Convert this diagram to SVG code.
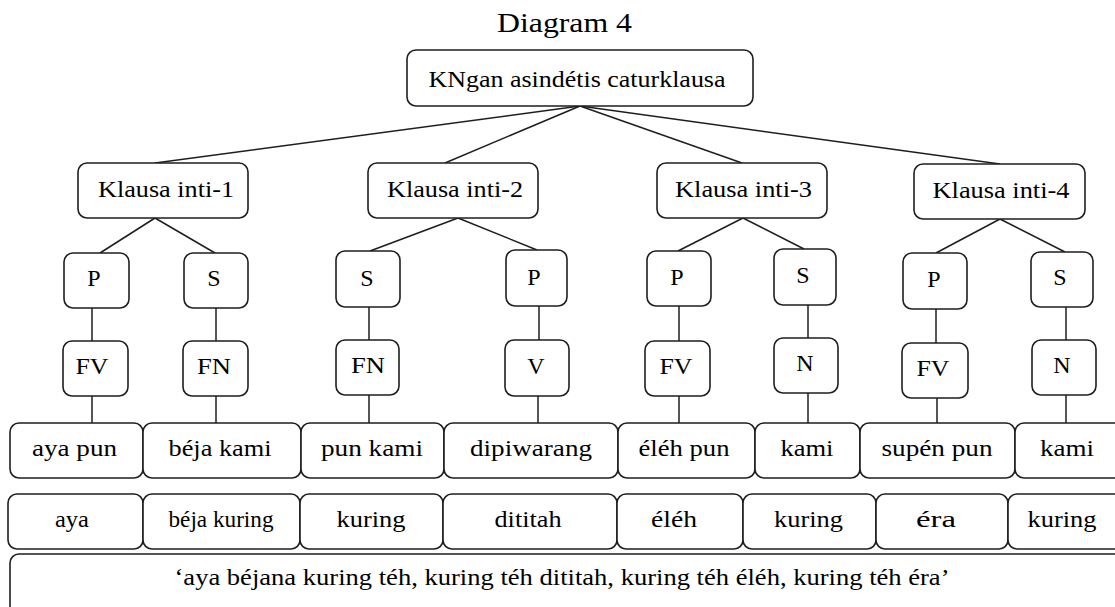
<svg xmlns="http://www.w3.org/2000/svg" width="1115" height="607" viewBox="0 0 1115 607">
  <style>
    .box { fill: #ffffff; stroke: #1e1e1e; stroke-width: 1.6; }
    .ln { stroke: #1e1e1e; stroke-width: 1.5; fill: none; }
    text { font-family: "Liberation Serif", "Times New Roman", serif; font-size: 24px; fill: #000000; text-anchor: middle; }
    text.title { font-size: 27px; }
  </style>
  <rect width="1115" height="607" fill="#ffffff"/>

  <text class="title" x="564.5" y="32" textLength="135" lengthAdjust="spacingAndGlyphs">Diagram 4</text>

  <!-- tree edges -->
  <g id="connectors">
    <line class="ln" x1="580" y1="106" x2="155" y2="163"/>
    <line class="ln" x1="580" y1="106" x2="445" y2="163"/>
    <line class="ln" x1="580" y1="106" x2="742" y2="163"/>
    <line class="ln" x1="580" y1="106" x2="1000" y2="164"/>

    <line class="ln" x1="155" y1="218" x2="100" y2="253"/>
    <line class="ln" x1="155" y1="218" x2="215" y2="253"/>
    <line class="ln" x1="458" y1="218" x2="370" y2="251"/>
    <line class="ln" x1="458" y1="218" x2="537" y2="250"/>
    <line class="ln" x1="743" y1="218" x2="678" y2="251"/>
    <line class="ln" x1="743" y1="218" x2="804" y2="249"/>
    <line class="ln" x1="1000" y1="219" x2="936" y2="253"/>
    <line class="ln" x1="1000" y1="219" x2="1065" y2="252"/>

    <line class="ln" x1="92" y1="308" x2="92" y2="341"/>
    <line class="ln" x1="216" y1="308" x2="216" y2="341"/>
    <line class="ln" x1="369" y1="307" x2="369" y2="340"/>
    <line class="ln" x1="539" y1="306" x2="539" y2="340"/>
    <line class="ln" x1="679" y1="306" x2="679" y2="341"/>
    <line class="ln" x1="808" y1="305" x2="808" y2="338"/>
    <line class="ln" x1="936" y1="309" x2="936" y2="343"/>
    <line class="ln" x1="1066" y1="307" x2="1066" y2="340"/>

    <line class="ln" x1="92" y1="396" x2="92" y2="423"/>
    <line class="ln" x1="216" y1="396" x2="216" y2="423"/>
    <line class="ln" x1="369" y1="395" x2="369" y2="423"/>
    <line class="ln" x1="538" y1="396" x2="538" y2="423"/>
    <line class="ln" x1="679" y1="396" x2="679" y2="423"/>
    <line class="ln" x1="808" y1="393" x2="808" y2="423"/>
    <line class="ln" x1="937" y1="398" x2="937" y2="423"/>
    <line class="ln" x1="1066" y1="395" x2="1066" y2="423"/>
  </g>

  <!-- root -->
  <g id="root">
    <rect class="box" x="407" y="50" width="346" height="56" rx="9"/>
    <text x="577" y="87" textLength="297" lengthAdjust="spacingAndGlyphs">KNgan asindétis caturklausa</text>
  </g>

  <!-- main clauses -->
  <g id="klausa-1">
    <rect class="box" x="78" y="163" width="170" height="55" rx="9"/>
    <text x="166" y="197" textLength="136" lengthAdjust="spacingAndGlyphs">Klausa inti-1</text>
  </g>
  <g id="klausa-2">
    <rect class="box" x="368" y="163" width="170" height="55" rx="9"/>
    <text x="455" y="197" textLength="136" lengthAdjust="spacingAndGlyphs">Klausa inti-2</text>
  </g>
  <g id="klausa-3">
    <rect class="box" x="657" y="163" width="170" height="55" rx="9"/>
    <text x="743.5" y="197" textLength="137" lengthAdjust="spacingAndGlyphs">Klausa inti-3</text>
  </g>
  <g id="klausa-4">
    <rect class="box" x="914" y="164" width="171" height="55" rx="9"/>
    <text x="1001" y="198" textLength="137" lengthAdjust="spacingAndGlyphs">Klausa inti-4</text>
  </g>

  <!-- functions -->
  <g id="k1-p">
    <rect class="box" x="64" y="253" width="65" height="55" rx="9"/>
    <text x="94" y="286">P</text>
  </g>
  <g id="k1-s">
    <rect class="box" x="184" y="253" width="64" height="55" rx="9"/>
    <text x="214" y="286">S</text>
  </g>
  <g id="k2-s">
    <rect class="box" x="336" y="251" width="64" height="56" rx="9"/>
    <text x="367" y="286">S</text>
  </g>
  <g id="k2-p">
    <rect class="box" x="506" y="250" width="61" height="56" rx="9"/>
    <text x="534" y="285">P</text>
  </g>
  <g id="k3-p">
    <rect class="box" x="647" y="251" width="64" height="55" rx="9"/>
    <text x="677" y="285">P</text>
  </g>
  <g id="k3-s">
    <rect class="box" x="774" y="249" width="62" height="56" rx="9"/>
    <text x="803" y="283">S</text>
  </g>
  <g id="k4-p">
    <rect class="box" x="903" y="253" width="64" height="56" rx="9"/>
    <text x="934" y="287">P</text>
  </g>
  <g id="k4-s">
    <rect class="box" x="1031" y="252" width="62" height="55" rx="9"/>
    <text x="1060" y="285">S</text>
  </g>

  <!-- categories -->
  <g id="k1-fv">
    <rect class="box" x="63" y="341" width="65" height="55" rx="9"/>
    <text x="92" y="374" textLength="33" lengthAdjust="spacingAndGlyphs">FV</text>
  </g>
  <g id="k1-fn">
    <rect class="box" x="183" y="341" width="65" height="55" rx="9"/>
    <text x="214" y="374" textLength="34" lengthAdjust="spacingAndGlyphs">FN</text>
  </g>
  <g id="k2-fn">
    <rect class="box" x="336" y="340" width="63" height="55" rx="9"/>
    <text x="368" y="373" textLength="34" lengthAdjust="spacingAndGlyphs">FN</text>
  </g>
  <g id="k2-v">
    <rect class="box" x="505" y="340" width="64" height="56" rx="9"/>
    <text x="536" y="374">V</text>
  </g>
  <g id="k3-fv">
    <rect class="box" x="645" y="341" width="65" height="55" rx="9"/>
    <text x="676" y="374" textLength="33" lengthAdjust="spacingAndGlyphs">FV</text>
  </g>
  <g id="k3-n">
    <rect class="box" x="774" y="338" width="64" height="55" rx="9"/>
    <text x="805" y="371">N</text>
  </g>
  <g id="k4-fv">
    <rect class="box" x="902" y="343" width="66" height="55" rx="9"/>
    <text x="933" y="376" textLength="33" lengthAdjust="spacingAndGlyphs">FV</text>
  </g>
  <g id="k4-n">
    <rect class="box" x="1032" y="340" width="64" height="55" rx="9"/>
    <text x="1062" y="373">N</text>
  </g>

  <!-- Sundanese words -->
  <g id="words">
    <rect class="box" x="10" y="423" width="133" height="55" rx="9"/>
    <rect class="box" x="143" y="423" width="158" height="55" rx="9"/>
    <rect class="box" x="301" y="423" width="143" height="55" rx="9"/>
    <rect class="box" x="444" y="423" width="174" height="55" rx="9"/>
    <rect class="box" x="618" y="423" width="137" height="55" rx="9"/>
    <rect class="box" x="755" y="423" width="105" height="55" rx="9"/>
    <rect class="box" x="860" y="423" width="155" height="55" rx="9"/>
    <rect class="box" x="1015" y="423" width="110" height="55" rx="9"/>
    <text x="74.5" y="456" textLength="85" lengthAdjust="spacingAndGlyphs">aya pun</text>
    <text x="220" y="456" textLength="103" lengthAdjust="spacingAndGlyphs">béja kami</text>
    <text x="372" y="456" textLength="102" lengthAdjust="spacingAndGlyphs">pun kami</text>
    <text x="531" y="456" textLength="122" lengthAdjust="spacingAndGlyphs">dipiwarang</text>
    <text x="684" y="456" textLength="91" lengthAdjust="spacingAndGlyphs">éléh pun</text>
    <text x="807" y="456" textLength="53" lengthAdjust="spacingAndGlyphs">kami</text>
    <text x="937" y="456" textLength="111" lengthAdjust="spacingAndGlyphs">supén pun</text>
    <text x="1067" y="456" textLength="54" lengthAdjust="spacingAndGlyphs">kami</text>
  </g>

  <!-- Indonesian glosses -->
  <g id="glosses">
    <rect class="box" x="8" y="494" width="135" height="55" rx="9"/>
    <rect class="box" x="143" y="494" width="157" height="55" rx="9"/>
    <rect class="box" x="300" y="494" width="143" height="55" rx="9"/>
    <rect class="box" x="443" y="494" width="174" height="55" rx="9"/>
    <rect class="box" x="617" y="494" width="126" height="55" rx="9"/>
    <rect class="box" x="743" y="494" width="133" height="55" rx="9"/>
    <rect class="box" x="876" y="494" width="132" height="55" rx="9"/>
    <rect class="box" x="1008" y="494" width="117" height="55" rx="9"/>
    <text x="72" y="527" textLength="34" lengthAdjust="spacingAndGlyphs">aya</text>
    <text x="221" y="527" textLength="105" lengthAdjust="spacingAndGlyphs">béja kuring</text>
    <text x="371" y="527" textLength="69" lengthAdjust="spacingAndGlyphs">kuring</text>
    <text x="528" y="527" textLength="67" lengthAdjust="spacingAndGlyphs">dititah</text>
    <text x="674" y="527" textLength="46" lengthAdjust="spacingAndGlyphs">éléh</text>
    <text x="808.5" y="527" textLength="69" lengthAdjust="spacingAndGlyphs">kuring</text>
    <text x="936" y="527" textLength="40" lengthAdjust="spacingAndGlyphs">éra</text>
    <text x="1062" y="527" textLength="69" lengthAdjust="spacingAndGlyphs">kuring</text>
  </g>

  <!-- free translation -->
  <g id="translation">
    <rect class="box" x="10" y="554" width="1125" height="70" rx="9"/>
    <text x="562" y="585" textLength="775" lengthAdjust="spacingAndGlyphs">‘aya béjana kuring téh, kuring téh dititah, kuring téh éléh, kuring téh éra’</text>
  </g>
</svg>
